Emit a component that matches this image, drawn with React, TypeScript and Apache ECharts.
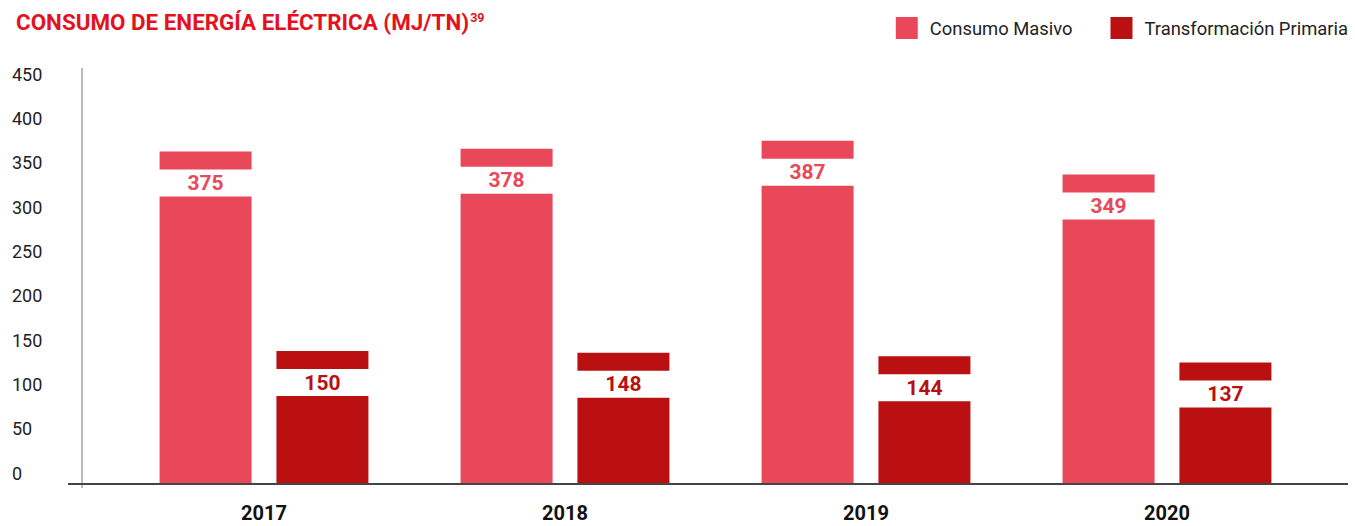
import React, { useEffect, useRef } from "react";
import * as echarts from "echarts";

const years = ["2017", "2018", "2019", "2020"];
const consumoMasivo = [375, 378, 387, 349];
const transformacionPrimaria = [150, 148, 144, 137];
const yTicks = { min: 0, max: 450, interval: 50 };

const FONT = 'Roboto, "Noto Sans", sans-serif';
const C1 = "#E8485A";
const C2 = "#BA1012";
const TITLE = "#E3121D";

const GRID_LEFT = 113.5;
const GRID_RIGHT = 37.5;
const GRID_TOP = 85;
const GRID_BOTTOM = 42;

export default function App() {
  const ref = useRef<HTMLDivElement>(null);
  useEffect(() => {
    if (!ref.current) return;
    const chart = echarts.init(ref.current, null, { renderer: "svg" });
    const H = 526;
    const baseY = H - GRID_BOTTOM;
    const barLabel = (color: string) => ({
      show: true,
      position: "insideTop",
      distance: 18,
      formatter: "{b|{c}}",
      rich: {
        b: {
          width: 96,
          height: 27,
          lineHeight: 27,
          align: "center",
          backgroundColor: "#ffffff",
          color,
          fontFamily: FONT,
          fontSize: 21,
          fontWeight: "bold",
        },
      },
    });
    chart.setOption({
      animation: false,
      backgroundColor: "#ffffff",
      title: {
        text: "{a|CONSUMO DE ENERGÍA ELÉCTRICA (MJ/TN)}{s|39}",
        left: 11,
        top: 3,
        textStyle: {
          rich: {
            a: { color: TITLE, fontFamily: FONT, fontSize: 22.4, fontWeight: "bold", lineHeight: 28 },
            s: { color: TITLE, fontFamily: FONT, fontSize: 12.5, fontWeight: "bold", lineHeight: 28, padding: [0, 0, 10, 1] },
          },
        },
      },
      legend: {
        right: 2,
        top: 12,
        icon: "rect",
        itemWidth: 22,
        itemHeight: 22,
        itemGap: 38,
        textStyle: { color: "#222", fontFamily: FONT, fontSize: 18.4, padding: [0, 0, 0, 7] },
        data: ["Consumo Masivo", "Transformación Primaria"],
      },
      grid: { left: GRID_LEFT, right: GRID_RIGHT, top: GRID_TOP, bottom: GRID_BOTTOM },
      xAxis: {
        type: "category",
        data: years,
        axisLine: { show: false },
        axisTick: { show: false },
        axisLabel: { color: "#111", fontFamily: FONT, fontSize: 20, fontWeight: "bold", margin: 19 },
      },
      yAxis: {
        type: "value",
        min: yTicks.min,
        max: yTicks.max,
        interval: yTicks.interval,
        splitLine: { show: false },
        axisLine: { show: false },
        axisTick: { show: false },
        axisLabel: {
          color: "#222",
          fontFamily: FONT,
          fontSize: 18,
          align: "left",
          verticalAlign: "bottom",
          lineHeight: 22,
          margin: GRID_LEFT - 12,
        },
      },
      graphic: [
        {
          type: "line",
          shape: { x1: 82, y1: 68, x2: 82, y2: baseY + 4 },
          style: { stroke: "#bbbbbb", lineWidth: 2 },
          z: 1,
        },
        {
          type: "line",
          shape: { x1: 68, y1: baseY, x2: 1348, y2: baseY },
          style: { stroke: "#444444", lineWidth: 2 },
          z: 100,
        },
      ],
      series: [
        {
          name: "Consumo Masivo",
          type: "bar",
          data: consumoMasivo,
          barWidth: 92,
          barGap: "27%",
          itemStyle: { color: C1 },
          label: barLabel(C1),
        },
        {
          name: "Transformación Primaria",
          type: "bar",
          data: transformacionPrimaria,
          barWidth: 92,
          barGap: "27%",
          itemStyle: { color: C2 },
          label: barLabel(C2),
        },
      ],
    });
    return () => chart.dispose();
  }, []);
  return <div ref={ref} style={{ width: 1355, height: 526, position: "absolute", left: 0, top: 0 }} />;
}
